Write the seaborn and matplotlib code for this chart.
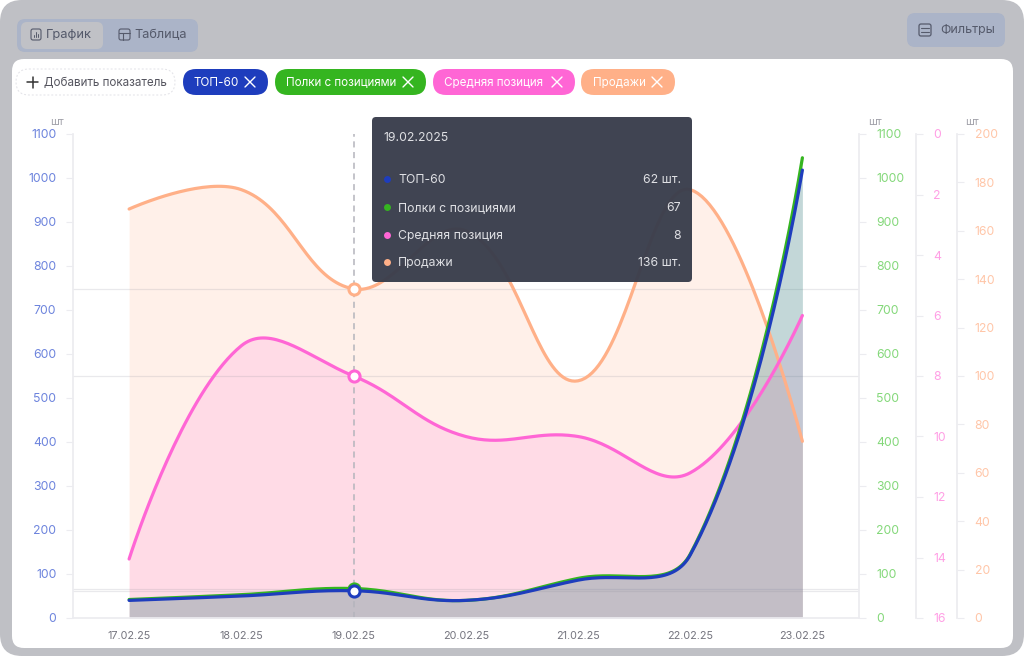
import matplotlib
matplotlib.use("Agg")
import matplotlib.pyplot as plt
from matplotlib.patches import FancyBboxPatch
import numpy as np
import seaborn as sns

days = ["17.02.25", "18.02.25", "19.02.25", "20.02.25", "21.02.25", "22.02.25", "23.02.25"]
top60 = [40, 50, 62, 40, 86, 143, 1018]
shelves = [42, 53, 67, 40, 90, 145, 1046]
avg_pos = [14.05, 7.0, 8, 10.0, 10.0, 11.2, 6.0]
sales = [169, 177, 136, 160, 98, 177, 73]

left_ticks = list(range(0, 1101, 100))
pos_ticks = list(range(0, 17, 2))
sales_ticks = list(range(0, 201, 20))
hover = 2

BLUE = "#1e3dbd"
GREEN = "#35b520"
PINK = "#ff66d5"
ORANGE = "#ffb088"
W, H = 1024, 656
X0, X1, Y0, Y1 = 73, 858.5, 618, 134

sns.set_theme(style="white")
plt.rcParams["font.family"] = ["Inter", "DejaVu Sans"]

fig = plt.figure(figsize=(W / 100, H / 100), dpi=100, facecolor="white")


# chart.js style bezier through the points, worked out in pixel space
def smooth(values, y_range, tension=0.4, steps=40):
    sx = (X1 - X0) / 7
    sy = (Y0 - Y1) / y_range
    pts = np.column_stack([np.arange(len(values)) * sx, np.array(values, float) * sy])
    prev_c, next_c = pts.copy(), pts.copy()
    for i in range(1, len(pts) - 1):
        d01 = np.hypot(*(pts[i] - pts[i - 1]))
        d12 = np.hypot(*(pts[i + 1] - pts[i]))
        fa = tension * d01 / (d01 + d12)
        fb = tension * d12 / (d01 + d12)
        prev_c[i] = pts[i] - fa * (pts[i + 1] - pts[i - 1])
        next_c[i] = pts[i] + fb * (pts[i + 1] - pts[i - 1])
    out = []
    t = np.linspace(0, 1, steps)[:, None]
    for i in range(len(pts) - 1):
        seg = ((1 - t) ** 3 * pts[i] + 3 * (1 - t) ** 2 * t * next_c[i]
               + 3 * (1 - t) * t ** 2 * prev_c[i + 1] + t ** 3 * pts[i + 1])
        out.append(seg)
    out = np.vstack(out)
    return out[:, 0] / sx, out[:, 1] / sy


# page behind the plot
bg = fig.add_axes([0, 0, 1, 1], zorder=0)
bg.set_xlim(0, W)
bg.set_ylim(H, 0)
bg.axis("off")


def box(ax, x0, y0, x1, y1, r, **kw):
    ax.add_patch(FancyBboxPatch((x0 + r, y0 + r), x1 - x0 - 2 * r, y1 - y0 - 2 * r,
                                boxstyle="round,pad=%s,rounding_size=%s" % (r, r), **kw))


box(bg, 0, 0, W, H, 22, fc="#bfc0c5", ec="none")
box(bg, 12, 59, 1013, 648, 12, fc="white", ec="none")
box(bg, 17, 19, 198, 52, 8, fc="#abb4c8", ec="none")
box(bg, 21, 22, 103, 49, 6, fc="#c0c1c6", ec="none")
box(bg, 907, 13, 1005, 47, 8, fc="#abb4c8", ec="none")
ink = "#555a6b"
bg.text(46, 35.5, "График", fontsize=9.3, color=ink, va="center")
bg.text(134, 35.5, "Таблица", fontsize=9.2, color=ink, va="center")
bg.text(940, 30, "Фильтры", fontsize=9.0, color=ink, va="center")
box(bg, 31, 29, 41, 40, 2, fc="none", ec=ink, lw=0.8)
bg.plot([34, 34], [37, 35], color=ink, lw=0.7)
bg.plot([36, 36], [37, 32], color=ink, lw=0.7)
bg.plot([38, 38], [37, 34], color=ink, lw=0.7)
box(bg, 119, 29, 130, 40, 2, fc="none", ec=ink, lw=0.8)
bg.plot([119, 130], [33, 33], color=ink, lw=0.8)
bg.plot([123, 123], [33, 40], color=ink, lw=0.8)
box(bg, 919, 24, 931, 36, 2, fc="none", ec=ink, lw=0.9)
bg.plot([921, 929], [28, 28], color=ink, lw=0.8)
bg.plot([921, 929], [32, 32], color=ink, lw=0.8)

box(bg, 16, 69, 175, 95, 13, fc="white", ec="#e2e2e7", lw=0.7, ls=(0, (2, 2)))
bg.plot([27, 38], [82, 82], color="#333", lw=1.1)
bg.plot([32.5, 32.5], [76.5, 87.5], color="#333", lw=1.1)
bg.text(44, 82.5, "Добавить показатель", fontsize=8.4, color="#55555f", va="center")

chips = [(183, 268, BLUE, "ТОП-60", 194), (275, 426, GREEN, "Полки с позициями", 286),
         (433, 575, PINK, "Средняя позиция", 444), (581, 675, ORANGE, "Продажи", 593)]
for x0, x1, col, label, tx in chips:
    box(bg, x0, 69, x1, 95, 13, fc=col, ec="none")
    bg.text(tx, 82.5, label, fontsize=8.4, color="white", va="center")
    cx = x1 - 18
    bg.plot([cx - 5, cx + 5], [77, 87], color="white", lw=1.0)
    bg.plot([cx - 5, cx + 5], [87, 77], color="white", lw=1.0)

for x, s in [(57, "шт"), (875, "шт"), (972, "шт")]:
    bg.text(x, 122, s, fontsize=7.6, color="#a0a0a8", ha="center", va="center")

# plot axes: fills go in their own axes so that no line gets covered by a fill
rect = [X0 / W, 1 - Y0 / H, (X1 - X0) / W, (Y0 - Y1) / H]
ax_sales = fig.add_axes(rect, zorder=2)
ax_pos = fig.add_axes(rect, zorder=3)
ax_green = fig.add_axes(rect, zorder=4)
ax_blue = fig.add_axes(rect, zorder=5)

SPINE = "#ececf0"
setup = [(ax_sales, sales_ticks, (0, 200), 957, "#ffc6a8", 7.6),
         (ax_pos, pos_ticks, (16, 0), 916, "#ff9fe5", 7.6),
         (ax_green, left_ticks, (0, 1100), X1, "#84d87a", 7.9),
         (ax_blue, left_ticks, (0, 1100), X0, "#6d84dd", 7.0)]
for ax, ticks, lim, sx, col, pad in setup:
    ax.patch.set_visible(False)
    ax.set_xlim(-0.5, 6.5)
    ax.set_ylim(*lim)
    ax.set_yticks(ticks)
    for s in ax.spines.values():
        s.set_visible(False)
    ax.set_xticks([])
    if ax is ax_blue:
        ax.yaxis.tick_left()
        ax.spines["left"].set_visible(True)
        ax.spines["left"].set_color(SPINE)
    else:
        ax.yaxis.tick_right()
        ax.spines["right"].set_visible(True)
        ax.spines["right"].set_color(SPINE)
        ax.spines["right"].set_position(("axes", (sx - X0) / (X1 - X0)))
    ax.tick_params(axis="y", length=5, width=0.8, color=SPINE, labelcolor=col,
                   labelsize=8.8, pad=pad)

ax_blue.set_xticks(range(len(days)))
ax_blue.set_xticklabels(days)
ax_blue.tick_params(axis="x", length=0, labelsize=7.8, labelcolor="#75757f", pad=9.5)
ax_blue.spines["bottom"].set_visible(True)
ax_blue.spines["bottom"].set_color(SPINE)

# fills and lines
series = [(ax_sales, sales, ORANGE, 200, 0.18, 0), (ax_pos, avg_pos, PINK, 16, 0.15, 16),
          (ax_green, shelves, GREEN, 1100, 0.15, 0), (ax_blue, top60, BLUE, 1100, 0.15, 0)]
ax_sales.axvline(hover, color="#b4b4bc", lw=1.1, ls=(0, (4, 3)), zorder=1)
for ax, vals, col, rng, alpha, base in series:
    xs, ys = smooth(vals, rng)
    ax_fill = fig.add_axes(rect, zorder=1)
    ax_fill.axis("off")
    ax_fill.set_xlim(-0.5, 6.5)
    ax_fill.set_ylim(ax.get_ylim())
    ax_fill.fill_between(xs, ys, base, color=col, alpha=alpha, lw=0)
    ax_fill.axhline(vals[hover], color="#8a8a98", alpha=0.18, lw=0.9)
    sns.lineplot(x=xs, y=ys, ax=ax, color=col, lw=2.3, sort=False, estimator=None,
                 solid_capstyle="round", legend=False)
    ax.plot([hover], [vals[hover]], "o", ms=8, mfc="white", mec=col, mew=2.2, zorder=5,
            clip_on=False)
    ax.set_xlabel("")
    ax.set_ylabel("")
    ax.set_xlim(-0.5, 6.5)

# tooltip on top
fg = fig.add_axes([0, 0, 1, 1], zorder=10)
fg.set_xlim(0, W)
fg.set_ylim(H, 0)
fg.axis("off")
fg.patch.set_visible(False)
box(fg, 372, 117, 692, 282, 4, fc="#3a3e4c", ec="none", alpha=0.97)
TXT = "#dfe0e4"
fg.text(383, 138, "19.02.2025", fontsize=8.8, color=TXT, va="center")
rows = [(179, BLUE, "ТОП-60", "%d шт." % top60[hover]),
        (207, GREEN, "Полки с позициями", "%d" % shelves[hover]),
        (235, PINK, "Средняя позиция", "%d" % avg_pos[hover]),
        (262, ORANGE, "Продажи", "%d шт." % sales[hover])]
for y, col, name, val in rows:
    fg.plot([387], [y], "o", ms=5, color=col, mew=0)
    fg.text(398, y + 1, name, fontsize=8.8, color=TXT, va="center")
    fg.text(681, y + 1, val, fontsize=8.8, color=TXT, va="center", ha="right")

fig.savefig("out.png", dpi=100)
